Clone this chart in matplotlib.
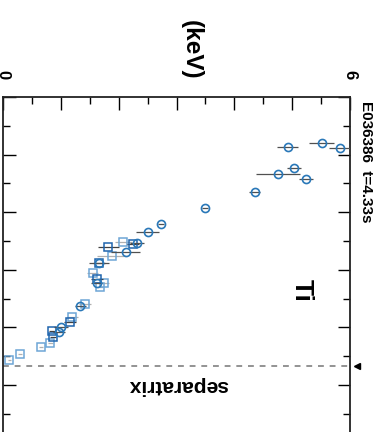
import matplotlib
matplotlib.use("Agg")
import matplotlib.pyplot as plt
from matplotlib.font_manager import fontManager

names = {f.name for f in fontManager.ttflist}
base = "Liberation Sans" if "Liberation Sans" in names else "DejaVu Sans"
narrow = "Liberation Sans Narrow" if "Liberation Sans Narrow" in names else base
plt.rcParams['font.family'] = [base, 'DejaVu Sans']

# ---- data (Ti in keV vs radial coordinate) ----
circ_ti  = [5.83, 5.51, 4.92, 5.03, 4.75, 5.24, 4.35, 3.49, 2.73, 2.50, 2.31, 2.12, 1.66, 1.62, 1.34, 1.00, 0.97]
circ_r   = [0.9178, 0.9159, 0.9173, 0.9245, 0.9268, 0.9284, 0.9331, 0.9384, 0.9442, 0.9470, 0.9506, 0.9538, 0.9575, 0.9647, 0.9726, 0.9797, 0.9817]
circ_err = [0.20, 0.22, 0.18, 0.12, 0.38, 0.12, 0.10, 0.05, 0.05, 0.20, 0.12, 0.25, 0.18, 0.10, 0.10, 0.12, 0.10]

dsq_ti  = [2.25, 1.82, 1.66, 1.63, 1.16, 0.85, 0.87]
dsq_r   = [0.9510, 0.9521, 0.9575, 0.9633, 0.9780, 0.9813, 0.9834]
dsq_err = [0.10, 0.18, 0.10, 0.10, 0.10, 0.05, 0.05]

lsq_ti  = [2.08, 1.88, 1.55, 1.74, 1.68, 1.42, 1.20, 0.82, 0.66, 0.29, 0.11]
lsq_r   = [0.9502, 0.9553, 0.9610, 0.9645, 0.9658, 0.9719, 0.9765, 0.9853, 0.9869, 0.9892, 0.9913]
lsq_err = [0.15, 0.25, 0.10, 0.10, 0.05, 0.10, 0.10, 0.05, 0.03, 0.03, 0.03]

r_sep = 0.9934
ti_ticks = [0, 1, 2, 3, 4, 5, 6]
ti_ticklabels = ['0', '', '', '', '', '', '6']

W, H = 384, 432
fig = plt.figure(figsize=(W / 100, H / 100), dpi=100)
ax_top = 97
ax_bot = 97 + 0.13 * 2880
ax = fig.add_axes([3 / W, 1 - ax_bot / H, (350 - 3) / W, (ax_bot - ax_top) / H])

ax.errorbar(lsq_ti, lsq_r, xerr=lsq_err, fmt='s', ms=5.4, mfc='none', mec='#6ea6d6',
            mew=1.1, ecolor='#b0b0b0', elinewidth=0.9, capsize=0, zorder=3)
ax.errorbar(dsq_ti, dsq_r, xerr=dsq_err, fmt='s', ms=5.4, mfc='none', mec='#1f64ad',
            mew=1.1, ecolor='#404040', elinewidth=0.9, capsize=0, zorder=4)
ax.errorbar(circ_ti, circ_r, xerr=circ_err, fmt='o', ms=5.8, mfc='none', mec='#2a78b8',
            mew=1.2, ecolor='#505050', elinewidth=0.9, capsize=0, zorder=5)

ax.axhline(r_sep, color='#808080', lw=1.2, ls=(0, (3.5, 3.5)), zorder=2)
ax.plot([6.12], [r_sep], marker='<', color='black', ms=5, clip_on=False, zorder=6)

ax.set_xlim(0, 6)
ax.set_ylim(1.03, 0.90)

ax.xaxis.set_ticks_position('both')
ax.xaxis.set_label_position('top')
ax.set_xticks(ti_ticks)
ax.set_xticks([0.5, 1.5, 2.5, 3.5, 4.5, 5.5], minor=True)
ax.set_xticklabels(ti_ticklabels)
ax.tick_params(axis='x', which='both', direction='in', top=True, bottom=False,
               labeltop=True, labelbottom=False)
ax.tick_params(axis='x', which='major', length=9, width=1.0, pad=13)
ax.tick_params(axis='x', which='minor', length=5, width=1.0)
for lab in ax.get_xticklabels():
    lab.set_rotation(-90)
    lab.set_fontsize(12)
    lab.set_fontweight('bold')

ax.set_yticks([0.90, 0.92, 0.94, 0.96, 0.98, 1.00, 1.02])
ax.set_yticks([0.91, 0.93, 0.95, 0.97, 0.99, 1.01], minor=True)
ax.tick_params(axis='y', which='both', direction='in', left=True, right=True,
               labelleft=False, labelright=False)
ax.tick_params(axis='y', which='major', length=9, width=1.0)
ax.tick_params(axis='y', which='minor', length=5, width=1.0)

for s in ax.spines.values():
    s.set_linewidth(1.3)
    s.set_color('#222222')

# texts (pixel coordinates converted to figure fraction)
def fx(x): return x / W
def fy(y): return 1 - y / H

fig.text(fx(191), fy(50), '(keV)', rotation=-90, ha='center', va='center',
         fontsize=17.5, fontweight='bold')
fig.text(fx(366), fy(101), 'E036386  t=4.33s', rotation=-90, ha='center', va='top',
         fontsize=11, fontweight='bold', family=[narrow, 'DejaVu Sans'])
fig.text(fx(302), fy(290), 'Ti', rotation=-90, ha='center', va='center',
         fontsize=19, fontweight='bold')
fig.text(fx(178), fy(385), 'separatrix', rotation=180, ha='center', va='center',
         fontsize=15, fontweight='bold')

fig.savefig('out.png', dpi=100)
